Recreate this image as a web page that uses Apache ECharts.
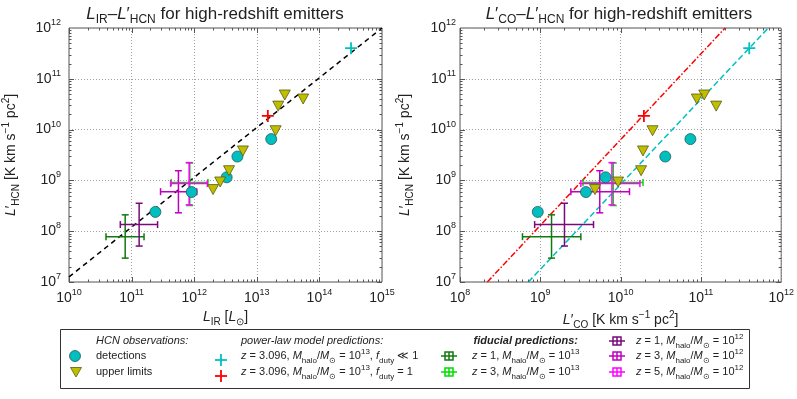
<!DOCTYPE html>
<html lang="en">
<head>
    <meta charset="UTF-8">
    <title>HCN high-redshift</title>
    <script src="https://cdn.jsdelivr.net/npm/echarts@6/dist/echarts.min.js"></script>
    <style>
        html, body { margin: 0; padding: 0; background: #fff; }
        #main { width: 797px; height: 399px; }
    </style>
</head>
<body>
<div id="main"></div>
<script>
    // HCN detections
    const detLIR = [2.4e11, 9.1e11, 3.3e12, 4.9e12, 1.7e13];
    const detLCO = [9.3e8, 3.7e9, 6.5e9, 3.6e10, 7.4e10];
    const detLHCN = [2.4e8, 5.9e8, 1.15e9, 2.95e9, 6.5e9];

    // HCN upper limits
    const ulLIR = [2.0e12, 2.6e12, 3.6e12, 6.0e12, 2.0e13, 2.2e13, 2.8e13, 5.5e13];
    const ulLCO = [4.8e9, 9.3e9, 1.8e10, 1.9e10, 2.5e10, 1.55e11, 1.1e11, 8.9e10];
    const ulLHCN = [6.6e8, 9.3e8, 1.55e9, 3.8e9, 9.5e9, 2.9e10, 4.8e10, 4.0e10];

    // power-law model predictions: [f_duty << 1, f_duty = 1]
    const powerLIR = [3.2e14, 1.5e13];
    const powerLCO = [4.0e11, 1.95e10];
    const powerLHCN = [4.0e11, 1.86e10];
    const powerColors = ['#00c0c0', '#ff0000'];

    // fiducial predictions: [centre, low, high]
    const fidColors = ['#107a10', '#00dd00', '#7a0a7a', '#c000c0', '#ff00ff'];
    const fidLIR = [[7.9e10, 3.9e10, 1.58e11], [8.5e11, 4.3e11, 1.66e12], [1.32e11, 6.6e10, 2.6e11],
                    [5.6e11, 2.9e11, 1.1e12], [8.3e11, 4.2e11, 1.62e12]];
    const fidLCO = [[1.38e9, 6.0e8, 3.2e9], [8.1e9, 3.4e9, 1.9e10], [2.0e9, 8.5e8, 4.6e9],
                    [5.5e9, 2.4e9, 1.29e10], [7.8e9, 3.2e9, 1.74e10]];
    const fidLHCN = [[7.8e7, 2.95e7, 2.1e8], [9.1e8, 3.2e8, 2.2e9], [1.35e8, 5.1e7, 3.55e8],
                     [6.0e8, 2.3e8, 1.55e9], [8.7e8, 3.3e8, 2.24e9]];

    // model lines
    const fitIR = [[1e10, 1.26e7], [1e15, 1e12]];
    const fitCOduty1 = [[2.19e8, 1e7], [2.0e11, 1e12]];
    const fitCOdutyLow = [[7.1e8, 1e7], [6.9e11, 1e12]];

    const FF = 'Liberation Sans';
    const INK = '#222';

    function rich(s, r) {
        const small = Math.round(s * (r || 0.72));
        return {
            n: {fontFamily: FF, fontSize: s, lineHeight: s + 6, color: INK},
            i: {fontFamily: FF, fontSize: s, fontStyle: 'italic', lineHeight: s + 6, color: INK},
            bi: {fontFamily: FF, fontSize: s, fontStyle: 'italic', fontWeight: 'bold', lineHeight: s + 6, color: INK},
            sub: {fontFamily: FF, fontSize: small, lineHeight: 0.4 * s + 6, verticalAlign: 'bottom', color: INK},
            sup: {fontFamily: FF, fontSize: small, lineHeight: 0.24 * s + 6, verticalAlign: 'top', color: INK}
        };
    }

    const zip = (xs, ys) => xs.map((x, k) => [x, ys[k]]);

    function logLabel(v) {
        return '{n|10}{sup|' + Math.round(Math.log10(v)) + '}';
    }

    const gridLine = {show: true, lineStyle: {color: '#a0a0a0', type: [1, 2], width: 1}};

    function xAxisOf(gi, min, max, name, gap) {
        return {
            type: 'log', logBase: 10, gridIndex: gi, min: min, max: max,
            name: name, nameLocation: 'middle', nameGap: gap,
            nameTextStyle: {fontFamily: FF, fontSize: 14, color: INK, rich: rich(14)},
            axisLine: {show: false}, axisTick: {show: false},
            axisLabel: {formatter: logLabel, margin: 6, rich: rich(14, 0.64), showMinLabel: true, showMaxLabel: true},
            splitLine: gridLine
        };
    }

    function yAxisOf(gi, min, max, name, gap, margin) {
        return {
            type: 'log', logBase: 10, gridIndex: gi, min: min, max: max,
            name: name, nameLocation: 'middle', nameGap: gap,
            nameTextStyle: {fontFamily: FF, fontSize: 14, color: INK, rich: rich(14)},
            axisLine: {show: false}, axisTick: {show: false},
            axisLabel: {formatter: logLabel, margin: margin, rich: rich(14, 0.64), showMinLabel: true, showMaxLabel: true},
            splitLine: gridLine
        };
    }

    // inward major and minor ticks on all four sides of a panel
    function tickSeries(ai, xe, ye) {
        return {
            type: 'custom', xAxisIndex: ai, yAxisIndex: ai, silent: true, z: 6,
            data: [[Math.pow(10, xe[0]), Math.pow(10, ye[0])]],
            renderItem: function (params, api) {
                const st = {stroke: '#555', lineWidth: 1};
                const lo = api.coord([Math.pow(10, xe[0]), Math.pow(10, ye[0])]);
                const hi = api.coord([Math.pow(10, xe[1]), Math.pow(10, ye[1])]);
                const kids = [];
                for (let e = xe[0]; e < xe[1]; e++) {
                    for (let m = 1; m < 10; m++) {
                        const x = Math.round(api.coord([m * Math.pow(10, e), Math.pow(10, ye[0])])[0]) + 0.5;
                        const len = m === 1 ? 5 : 2.5;
                        kids.push({type: 'line', shape: {x1: x, y1: lo[1], x2: x, y2: lo[1] - len}, style: st});
                        kids.push({type: 'line', shape: {x1: x, y1: hi[1], x2: x, y2: hi[1] + len}, style: st});
                    }
                }
                for (let e = ye[0]; e < ye[1]; e++) {
                    for (let m = 1; m < 10; m++) {
                        const y = Math.round(api.coord([Math.pow(10, xe[0]), m * Math.pow(10, e)])[1]) + 0.5;
                        const len = m === 1 ? 5 : 2.5;
                        kids.push({type: 'line', shape: {x1: lo[0], y1: y, x2: lo[0] + len, y2: y}, style: st});
                        kids.push({type: 'line', shape: {x1: hi[0], y1: y, x2: hi[0] - len, y2: y}, style: st});
                    }
                }
                return {type: 'group', children: kids};
            }
        };
    }

    function errSeries(ai, xs, k) {
        const c = fidColors[k];
        return {
            type: 'custom', xAxisIndex: ai, yAxisIndex: ai, z: 3,
            data: [[xs[k][0], fidLHCN[k][0], xs[k][1], xs[k][2], fidLHCN[k][1], fidLHCN[k][2]]],
            renderItem: function (params, api) {
                const cx = api.coord([api.value(0), api.value(1)]);
                const l = api.coord([api.value(2), api.value(1)])[0];
                const r = api.coord([api.value(3), api.value(1)])[0];
                const b = api.coord([api.value(0), api.value(4)])[1];
                const t = api.coord([api.value(0), api.value(5)])[1];
                const cap = 3.5;
                const st = {stroke: c, lineWidth: 1.5};
                const ln = (x1, y1, x2, y2) => ({type: 'line', shape: {x1, y1, x2, y2}, style: st});
                return {type: 'group', children: [
                    ln(l, cx[1], r, cx[1]), ln(cx[0], t, cx[0], b),
                    ln(l, cx[1] - cap, l, cx[1] + cap), ln(r, cx[1] - cap, r, cx[1] + cap),
                    ln(cx[0] - cap, t, cx[0] + cap, t), ln(cx[0] - cap, b, cx[0] + cap, b)
                ]};
            }
        };
    }

    const PLUS = 'path://M0,6H12M6,0V12';

    function panelSeries(ai, xDet, xUl, xPow, xFid) {
        const s = [];
        for (let k = 0; k < 5; k++) s.push(errSeries(ai, xFid, k));
        s.push({
            type: 'scatter', xAxisIndex: ai, yAxisIndex: ai, z: 4,
            symbol: 'circle', symbolSize: 11,
            itemStyle: {color: '#00bfbf', borderColor: '#2a5a5a', borderWidth: 0.8, opacity: 1},
            data: zip(xDet, detLHCN)
        });
        s.push({
            type: 'scatter', xAxisIndex: ai, yAxisIndex: ai, z: 4,
            symbol: 'triangle', symbolRotate: 180, symbolSize: [11, 10],
            itemStyle: {color: '#bfbf00', borderColor: '#5a5a10', borderWidth: 0.8, opacity: 1},
            data: zip(xUl, ulLHCN)
        });
        for (let k = 0; k < 2; k++) {
            s.push({
                type: 'scatter', xAxisIndex: ai, yAxisIndex: ai, z: 5,
                symbol: PLUS, symbolSize: 12,
                itemStyle: {color: 'rgba(0,0,0,0)', borderColor: powerColors[k], borderWidth: 1.8, opacity: 1},
                data: [[xPow[k], powerLHCN[k]]]
            });
        }
        return s;
    }

    // legend drawn with graphic elements
    const R11 = rich(11);
    const legendText = [
        [96, 341, '{i|HCN observations:}', 'left'],
        [96, 356, '{n|detections}', 'left'],
        [96, 372, '{n|upper limits}', 'left'],
        [241, 341, '{i|power-law model predictions:}', 'left'],
        [241, 356, '{i|z}{n| = 3.096, }{i|M}{sub|halo}{n|/}{i|M}{sub|\u2299}{n| = 10}{sup|13}{n|, }{i|f}{sub|duty}{n| \u226A 1}', 'left'],
        [241, 372, '{i|z}{n| = 3.096, }{i|M}{sub|halo}{n|/}{i|M}{sub|\u2299}{n| = 10}{sup|13}{n|, }{i|f}{sub|duty}{n| = 1}', 'left'],
        [578, 341, '{bi|fiducial predictions:}', 'right'],
        [472, 356, '{i|z}{n| = 1, }{i|M}{sub|halo}{n|/}{i|M}{sub|\u2299}{n| = 10}{sup|13}', 'left'],
        [472, 372, '{i|z}{n| = 3, }{i|M}{sub|halo}{n|/}{i|M}{sub|\u2299}{n| = 10}{sup|13}', 'left'],
        [636, 341, '{i|z}{n| = 1, }{i|M}{sub|halo}{n|/}{i|M}{sub|\u2299}{n| = 10}{sup|12}', 'left'],
        [636, 356, '{i|z}{n| = 3, }{i|M}{sub|halo}{n|/}{i|M}{sub|\u2299}{n| = 10}{sup|12}', 'left'],
        [636, 372, '{i|z}{n| = 5, }{i|M}{sub|halo}{n|/}{i|M}{sub|\u2299}{n| = 10}{sup|12}', 'left']
    ];
    const fidHandlePos = [[449, 356], [449, 372], [617, 341], [617, 356], [617, 372]];

    const graphics = [
        {type: 'rect', shape: {x: 60.5, y: 329.5, width: 689, height: 59}, style: {fill: '#fff', stroke: '#333', lineWidth: 1}, z: 10}
    ];
    legendText.forEach(function (t) {
        graphics.push({type: 'text', x: t[0], y: t[1], z: 11,
            style: {text: t[2], rich: R11, fontFamily: FF, fontSize: 11, fill: INK, align: t[3], verticalAlign: 'middle'}});
    });
    graphics.push({type: 'circle', shape: {cx: 75, cy: 356, r: 5.5}, style: {fill: '#00bfbf', stroke: '#2a5a5a', lineWidth: 0.8}, z: 11});
    graphics.push({type: 'polygon', shape: {points: [[70.5, 367.5], [81.5, 367.5], [76, 377]]}, style: {fill: '#bfbf00', stroke: '#5a5a10', lineWidth: 0.8}, z: 11});
    [[221, 360], [221, 376]].forEach(function (p, k) {
        graphics.push({type: 'group', z: 11, children: [
            {type: 'line', shape: {x1: p[0] - 6, y1: p[1], x2: p[0] + 6, y2: p[1]}, style: {stroke: powerColors[k], lineWidth: 1.8}, z: 11},
            {type: 'line', shape: {x1: p[0], y1: p[1] - 6, x2: p[0], y2: p[1] + 6}, style: {stroke: powerColors[k], lineWidth: 1.8}, z: 11}
        ]});
    });
    fidHandlePos.forEach(function (p, k) {
        const st = {stroke: fidColors[k], lineWidth: 1.5, fill: null};
        graphics.push({type: 'group', z: 11, children: [
            {type: 'line', shape: {x1: p[0] - 8, y1: p[1], x2: p[0] + 8, y2: p[1]}, style: st, z: 11},
            {type: 'line', shape: {x1: p[0], y1: p[1] - 4, x2: p[0], y2: p[1] + 4}, style: st, z: 11},
            {type: 'rect', shape: {x: p[0] - 4, y: p[1] - 4, width: 8, height: 8}, style: st, z: 11}
        ]});
    });
    // panel titles
    graphics.push({type: 'text', x: 215, y: 14, z: 11, style: {text: '{i|L}{sub|IR}{n|\u2013}{i|L}{n|\u2032}{sub|HCN}{n| for high-redshift emitters}',
        rich: rich(17), fontFamily: FF, fontSize: 17, fill: INK, align: 'center', verticalAlign: 'middle'}});
    graphics.push({type: 'text', x: 619, y: 14, z: 11, style: {text: '{i|L}{n|\u2032}{sub|CO}{n|\u2013}{i|L}{n|\u2032}{sub|HCN}{n| for high-redshift emitters}',
        rich: rich(17), fontFamily: FF, fontSize: 17, fill: INK, align: 'center', verticalAlign: 'middle'}});

    const hcnName = '{i|L}{n|\u2032}{sub|HCN}{n| [K km s}{sup|\u22121}{n| pc}{sup|2}{n|]}';

    const chart = echarts.init(document.getElementById('main'), null, {renderer: 'canvas'});
    const option = {
        backgroundColor: '#fff',
        animation: false,
        textStyle: {fontFamily: FF, color: INK},
        grid: [
            {left: 66, top: 28, width: 316, height: 254, show: true, borderColor: '#555', borderWidth: 1, backgroundColor: '#fff'},
            {left: 460, top: 28, width: 322, height: 254, show: true, borderColor: '#555', borderWidth: 1, backgroundColor: '#fff'}
        ],
        xAxis: [
            xAxisOf(0, 1e10, 1e15, '{i|L}{sub|IR}{n| [}{i|L}{sub|\u2299}{n|]}', 24),
            xAxisOf(1, 1e8, 1e12, '{i|L}{n|\u2032}{sub|CO}{n| [K km s}{sup|\u22121}{n| pc}{sup|2}{n|]}', 24)
        ],
        yAxis: [
            yAxisOf(0, 1e7, 1e12, hcnName, 48, 8),
            yAxisOf(1, 1e7, 1e12, hcnName, 45, 4)
        ],
        graphic: graphics,
        series: [
            tickSeries(0, [10, 15], [7, 12]),
            tickSeries(1, [8, 12], [7, 12]),
            {
                type: 'line', xAxisIndex: 0, yAxisIndex: 0, z: 2, symbol: 'none',
                lineStyle: {color: '#000', width: 1.5, type: [5, 4]},
                data: fitIR
            },
            {
                type: 'line', xAxisIndex: 1, yAxisIndex: 1, z: 2, symbol: 'none',
                lineStyle: {color: '#ff0000', width: 1.5, type: [6, 2, 1.5, 2]},
                data: fitCOduty1
            },
            {
                type: 'line', xAxisIndex: 1, yAxisIndex: 1, z: 2, symbol: 'none',
                lineStyle: {color: '#00c0c0', width: 1.5, type: [6, 3]},
                data: fitCOdutyLow
            }
        ].concat(panelSeries(0, detLIR, ulLIR, powerLIR, fidLIR))
         .concat(panelSeries(1, detLCO, ulLCO, powerLCO, fidLCO))
    };
    chart.setOption(option);
</script>
</body>
</html>
